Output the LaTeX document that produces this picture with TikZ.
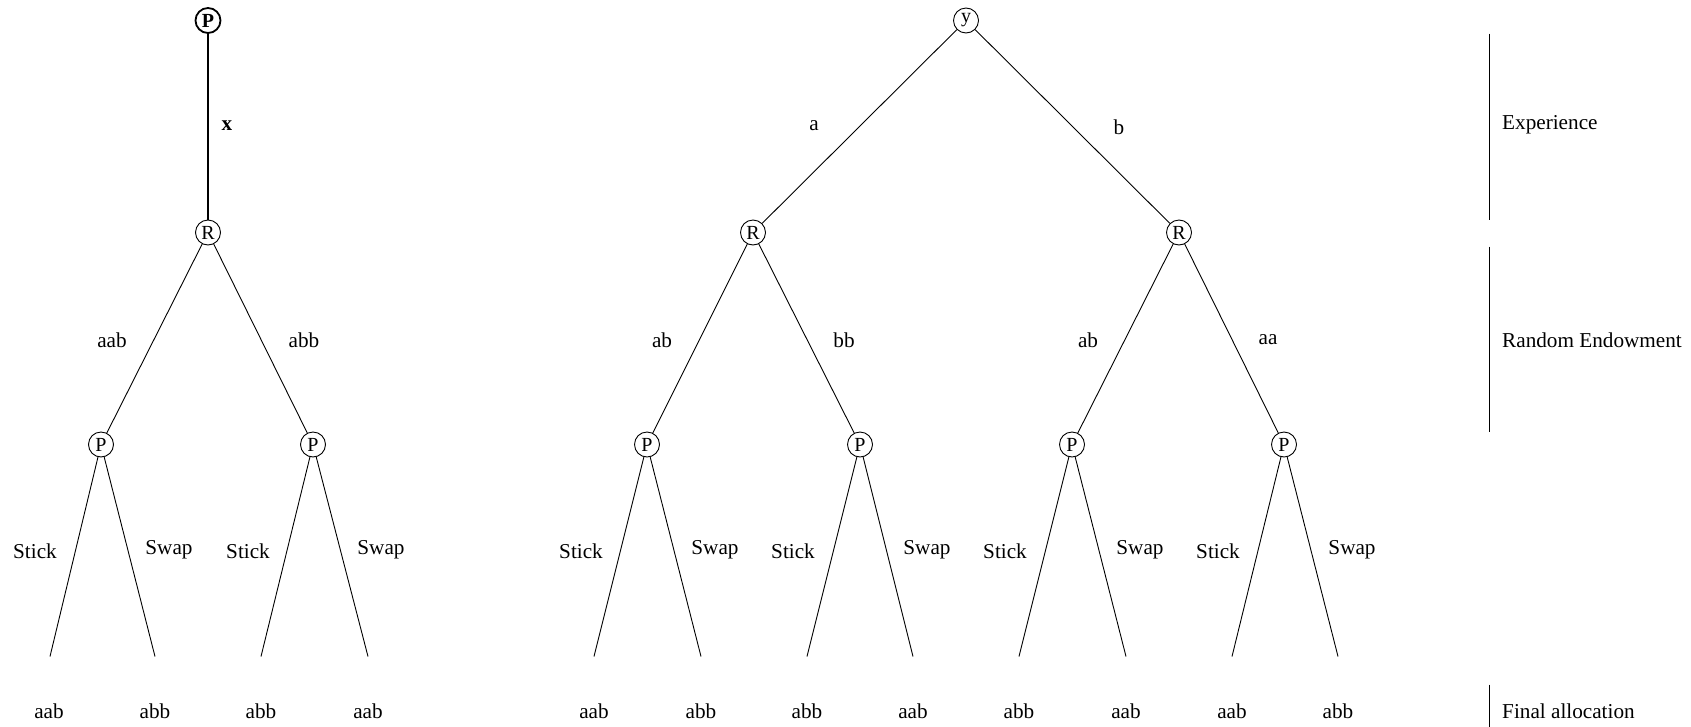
\documentclass[tikz,border=0pt]{standalone}
\usepackage{fontspec}
\setmainfont{Liberation Serif}
\usetikzlibrary{positioning}

\begin{document}
\begin{tikzpicture}[x=1pt, y=-1pt, font=\fontsize{21.2}{25}\selectfont,
    every node/.style={yshift=-0.5pt},
    chance/.style={draw, circle, minimum size=25pt, inner sep=0pt, line width=0.9pt, yshift=0pt, font=\fontsize{20}{24}\selectfont},
    branch/.style={line width=0.9pt},
    phase/.style={anchor=west, inner sep=0pt}]
    \useasboundingbox (0,0) rectangle (1691,726);

    % left tree
    \node[chance, line width=1.8pt, font=\fontsize{20}{24}\selectfont\bfseries] (P0) at (208, 20) {P};
    \node[chance] (R0) at (208, 232) {R};
    \node[chance] (P1) at (101, 444) {P};
    \node[chance] (P2) at (313, 444) {P};
    \coordinate (L1) at (50, 656);
    \coordinate (L2) at (155, 656);
    \coordinate (L3) at (261, 656);
    \coordinate (L4) at (368, 656);

    \draw[line width=1.8pt] (P0) -- (R0);
    \draw[branch] (R0) -- (P1);
    \draw[branch] (R0) -- (P2);
    \draw[branch] (P1) -- (L1);
    \draw[branch] (P1) -- (L2);
    \draw[branch] (P2) -- (L3);
    \draw[branch] (P2) -- (L4);

    \node (lx) at (227, 125) {\textbf{x}};
    \node (laab) at (112, 340) {aab};
    \node (labb) at (304, 340) {abb};
    \node (s1) at (35, 551) {Stick};
    \node (w1) at (169, 549) {Swap};
    \node (s2) at (248, 551) {Stick};
    \node (w2) at (381, 549) {Swap};
    \node (f1) at (49, 711) {aab};
    \node (f2) at (155, 711) {abb};
    \node (f3) at (261, 711) {abb};
    \node (f4) at (368, 711) {aab};

    % right tree
    \node[chance] (Y) at (966, 20) {y};
    \node[chance] (Ra) at (753, 232) {R};
    \node[chance] (Rb) at (1179, 232) {R};
    \node[chance] (Pa1) at (647, 444) {P};
    \node[chance] (Pa2) at (860, 444) {P};
    \node[chance] (Pb1) at (1072, 444) {P};
    \node[chance] (Pb2) at (1284, 444) {P};
    \coordinate (La1) at (594, 656);
    \coordinate (La2) at (701, 656);
    \coordinate (La3) at (807, 656);
    \coordinate (La4) at (913, 656);
    \coordinate (Lb1) at (1019, 656);
    \coordinate (Lb2) at (1126, 656);
    \coordinate (Lb3) at (1232, 656);
    \coordinate (Lb4) at (1338, 656);

    \draw[branch] (Y) -- (Ra);
    \draw[branch] (Y) -- (Rb);
    \draw[branch] (Ra) -- (Pa1);
    \draw[branch] (Ra) -- (Pa2);
    \draw[branch] (Rb) -- (Pb1);
    \draw[branch] (Rb) -- (Pb2);
    \draw[branch] (Pa1) -- (La1);
    \draw[branch] (Pa1) -- (La2);
    \draw[branch] (Pa2) -- (La3);
    \draw[branch] (Pa2) -- (La4);
    \draw[branch] (Pb1) -- (Lb1);
    \draw[branch] (Pb1) -- (Lb2);
    \draw[branch] (Pb2) -- (Lb3);
    \draw[branch] (Pb2) -- (Lb4);

    \node (la) at (814, 125) {a};
    \node (lb) at (1119, 127) {b};
    \node (lab1) at (662, 340) {ab};
    \node (lbb) at (844, 340) {bb};
    \node (lab2) at (1088, 340) {ab};
    \node (laa) at (1268, 339) {aa};
    \node (sa1) at (581, 551) {Stick};
    \node (wa1) at (715, 549) {Swap};
    \node (sa2) at (793, 551) {Stick};
    \node (wa2) at (927, 549) {Swap};
    \node (sb1) at (1005, 551) {Stick};
    \node (wb1) at (1140, 549) {Swap};
    \node (sb2) at (1218, 551) {Stick};
    \node (wb2) at (1352, 549) {Swap};
    \node (fa1) at (594, 711) {aab};
    \node (fa2) at (701, 711) {abb};
    \node (fa3) at (807, 711) {abb};
    \node (fa4) at (913, 711) {aab};
    \node (fb1) at (1019, 711) {abb};
    \node (fb2) at (1126, 711) {aab};
    \node (fb3) at (1232, 711) {aab};
    \node (fb4) at (1338, 711) {abb};

    % phases
    \coordinate (e1) at (1489, 33);
    \coordinate (e2) at (1489, 219);
    \coordinate (r1) at (1489, 246);
    \coordinate (r2) at (1489, 431);
    \coordinate (a1) at (1489, 684);
    \coordinate (a2) at (1489, 726);
    \draw[branch] (e1) -- (e2);
    \draw[branch] (r1) -- (r2);
    \draw[branch] (a1) -- (a2);
    \node[phase] (exp) at (1502, 124) {Experience};
    \node[phase] (end) at (1502, 340) {Random Endowment};
    \node[phase] (fin) at (1502, 711) {Final allocation};
\end{tikzpicture}
\end{document}
